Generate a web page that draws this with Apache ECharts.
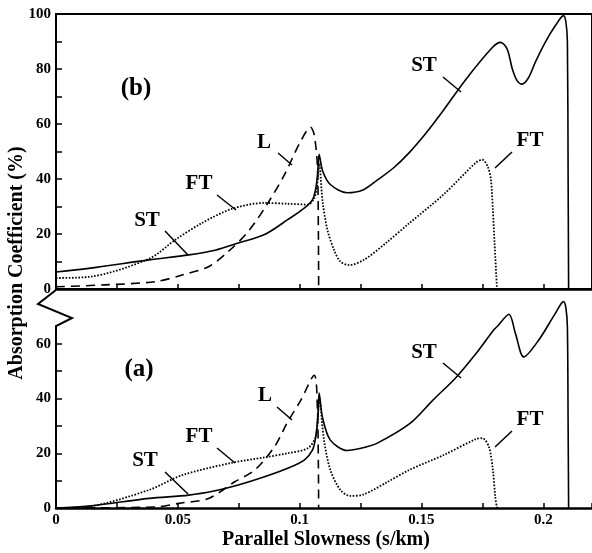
<!DOCTYPE html>
<html>
<head>
<meta charset="utf-8">
<script src="https://cdn.jsdelivr.net/npm/echarts@6/dist/echarts.min.js"></script>
<style>
  html, body { margin: 0; padding: 0; background: #fff; }
  #chart { width: 592px; height: 553px; }
</style>
</head>
<body>
<div id="chart"></div>
<script>
// panel (b), upper
const topST = [[0, 6.2], [0.0134, 7.5], [0.0382, 10.6], [0.0545, 12.4], [0.0653, 14.1], [0.0748, 16.7],
  [0.0856, 19.8], [0.0951, 25.2], [0.1019, 29.4], [0.1053, 32.5], [0.1066, 36.5], [0.1074, 42], [0.108, 49],
  [0.1094, 43], [0.1126, 38], [0.1195, 35], [0.126, 36], [0.1317, 39.5], [0.1385, 44], [0.145, 49.6],
  [0.152, 56.8], [0.1588, 64.7], [0.1683, 76.3], [0.1791, 87.8], [0.1825, 89.7], [0.1852, 87.2], [0.1873, 80],
  [0.1893, 75.7], [0.1913, 74.5], [0.194, 76.9], [0.1967, 82.4], [0.2008, 89.7], [0.2049, 95.7], [0.2083, 99.4],
  [0.2093, 97], [0.2099, 90], [0.2102, 40], [0.2104, 0]];
const topFT = [[0, 4], [0.0134, 4.4], [0.0382, 11], [0.049, 17.9], [0.0599, 24], [0.0721, 29.1], [0.0856, 31.3],
  [0.0951, 31], [0.1033, 30.7], [0.106, 33], [0.1072, 38], [0.108, 46], [0.1094, 32], [0.1114, 21.5],
  [0.1142, 14], [0.1167, 10], [0.1203, 8.7], [0.1264, 10.6], [0.1358, 17], [0.1451, 24], [0.159, 34.3],
  [0.1724, 46], [0.175, 47], [0.1772, 44.5], [0.1785, 39.8], [0.1793, 29], [0.18, 16.8], [0.181, 0]];
const topL = [[0, 0.8], [0.02, 1.5], [0.041, 2.7], [0.0518, 5.1], [0.0626, 8.1], [0.0707, 13.6], [0.0789, 20.9],
  [0.087, 31.3], [0.0938, 41.6], [0.1, 53], [0.1045, 58.8], [0.106, 56], [0.1073, 44.5], [0.1077, 20],
  [0.1078, 0]];

// panel (a), lower
const botST = [[0, 0], [0.0134, 0.7], [0.0382, 3.5], [0.0545, 4.7], [0.0653, 6.3], [0.0748, 8.4],
  [0.0856, 11.4], [0.0951, 14.5], [0.1019, 17.5], [0.1053, 21.2], [0.1066, 26], [0.1076, 34.6], [0.108, 42],
  [0.1094, 33], [0.1126, 24.8], [0.1195, 21], [0.126, 22], [0.1317, 23.6], [0.1453, 30.9], [0.1547, 39.4],
  [0.1642, 47.7], [0.1724, 56.4], [0.1798, 65.2], [0.1812, 66.4], [0.1859, 70.8], [0.1886, 63.7],
  [0.192, 55.2], [0.1981, 61.3], [0.2049, 71], [0.2083, 75.4], [0.2093, 73], [0.2099, 66], [0.2102, 30],
  [0.2104, 0]];
const botFT = [[0, 0], [0.0134, 0.5], [0.0382, 6.6], [0.0518, 12], [0.0721, 16.5], [0.0856, 18.5],
  [0.0951, 20], [0.1033, 21.8], [0.1066, 26], [0.1075, 34], [0.108, 40], [0.11, 24.8], [0.1126, 13.9],
  [0.1167, 6.6], [0.1207, 4.4], [0.1264, 5], [0.136, 9.5], [0.145, 13.9], [0.159, 19.3], [0.1724, 25.2],
  [0.175, 25.5], [0.1777, 22.3], [0.1793, 14], [0.1803, 4], [0.181, 0]];
const botL = [[0, 0], [0.041, 0.4], [0.0504, 1.7], [0.0626, 3.5], [0.0734, 9.6], [0.0816, 13.9],
  [0.0897, 22.4], [0.0951, 31.5], [0.1005, 39.4], [0.106, 48.5], [0.1073, 36], [0.1077, 15], [0.1078, 0]];

const topYLabels = [0, 20, 40, 60, 80, 100];
const botYLabels = [0, 20, 40, 60];
const botYTicks = [0, 10, 20, 30, 40, 50, 60];

// curve labels and their leader lines (pixels)
const tags = [['(b)', 136, 89, 25], ['(a)', 139, 370, 25], ['L', 264, 143, 21], ['FT', 199, 184, 21],
  ['ST', 147, 221, 21], ['ST', 424, 66, 21], ['FT', 530, 141, 21], ['L', 265, 396, 21], ['FT', 199, 437, 21],
  ['ST', 145, 461, 21], ['ST', 424, 353, 21], ['FT', 530, 420, 21]];
const leaders = [[278, 153, 292, 165], [217, 195, 236, 210], [165, 231, 188, 255], [443, 77, 461, 92],
  [512, 152, 495, 168], [277, 407, 292, 420], [217, 448, 235, 463], [165, 472, 188, 494],
  [443, 363, 461, 378], [512, 431, 495, 447]];

const FONT = 'Liberation Serif';
const lbl = { fontFamily: FONT, fontWeight: 'bold', fontSize: 15, color: '#000' };

const xAxisBase = {
  type: 'value', min: 0, max: 0.22, interval: 0.05,
  axisLine: { lineStyle: { color: '#000', width: 2.5 } },
  axisTick: { inside: true, length: 5, lineStyle: { color: '#000', width: 1.5 } },
  minorTick: { show: true, splitNumber: 2, length: 5, lineStyle: { color: '#000', width: 1.5 } },
  splitLine: { show: false }
};

function line(data, xi, style) {
  const dash = style === 'solid' ? 'solid' : style === 'dot' ? [1.6, 1.6] : [9, 6];
  return {
    type: 'line', data: data, xAxisIndex: xi, yAxisIndex: xi,
    showSymbol: false, symbol: 'none', silent: true, smooth: 0.3,
    lineStyle: { color: '#000', width: style === 'dot' ? 1.8 : 1.6, type: dash }
  };
}

const graphic = [
  { type: 'polyline', shape: { points: [[56, 508], [56, 326], [72, 318], [38, 304], [56, 290]] },
    style: { stroke: '#000', lineWidth: 2, fill: null } },
  { type: 'text', x: 17, y: 263, rotation: Math.PI / 2,
    style: { text: 'Absorption Coefficient (%)', font: 'bold 20px "' + FONT + '"', fill: '#000',
      textAlign: 'center', textVerticalAlign: 'middle' } },
  { type: 'text', x: 326, y: 540,
    style: { text: 'Parallel Slowness (s/km)', font: 'bold 20px "' + FONT + '"', fill: '#000',
      textAlign: 'center', textVerticalAlign: 'middle' } }
];
tags.forEach(t => graphic.push({ type: 'text', x: t[1], y: t[2],
  style: { text: t[0], font: 'bold ' + t[3] + 'px "' + FONT + '"', fill: '#000',
    textAlign: 'center', textVerticalAlign: 'middle' } }));
leaders.forEach(l => graphic.push({ type: 'line', shape: { x1: l[0], y1: l[1], x2: l[2], y2: l[3] },
  style: { stroke: '#000', lineWidth: 1.5 } }));

const chart = echarts.init(document.getElementById('chart'));
chart.setOption({
  backgroundColor: '#fff',
  animation: false,
  grid: [
    { left: 56, top: 14, width: 541, height: 275, show: true, borderColor: '#000', borderWidth: 2 },
    { left: 56, top: 289, width: 541, height: 219 }
  ],
  xAxis: [
    Object.assign({}, xAxisBase, { gridIndex: 0, axisLabel: { show: false } }),
    Object.assign({}, xAxisBase, { gridIndex: 1,
      axisLabel: Object.assign({ margin: 5, showMaxLabel: false }, lbl) })
  ],
  yAxis: [
    { type: 'value', gridIndex: 0, min: 0, max: 100, interval: 20,
      axisLine: { lineStyle: { color: '#000', width: 2 } },
      axisTick: { inside: true, length: 6, lineStyle: { color: '#000', width: 1.5 } },
      minorTick: { show: true, splitNumber: 2, length: 6, lineStyle: { color: '#000', width: 1.5 } },
      axisLabel: Object.assign({ margin: 5, customValues: topYLabels }, lbl),
      splitLine: { show: false } },
    { type: 'value', gridIndex: 1, min: 0, max: 80, interval: 20,
      axisLine: { show: false },
      axisTick: { inside: true, length: 6, customValues: botYTicks, lineStyle: { color: '#000', width: 1.5 } },
      axisLabel: Object.assign({ margin: 5, customValues: botYLabels }, lbl),
      splitLine: { show: false } }
  ],
  series: [
    line(topST, 0, 'solid'), line(topFT, 0, 'dot'), line(topL, 0, 'dash'),
    line(botST, 1, 'solid'), line(botFT, 1, 'dot'), line(botL, 1, 'dash')
  ],
  graphic: graphic
});
</script>
</body>
</html>
